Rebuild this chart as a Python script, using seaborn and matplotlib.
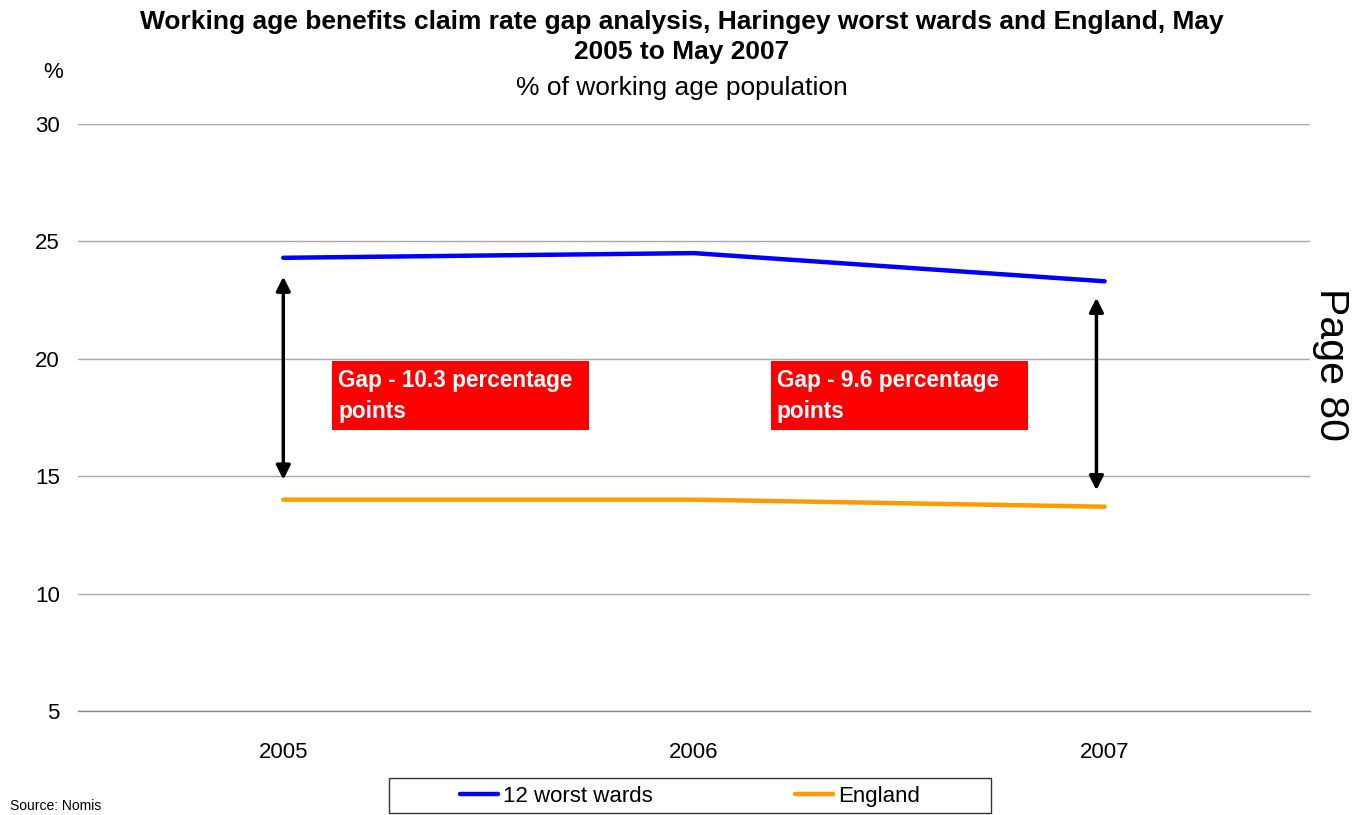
import matplotlib
matplotlib.use("Agg")
import matplotlib.pyplot as plt
from matplotlib.patches import Rectangle
import seaborn as sns
import pandas as pd

# Claim rates, % of working age population
years = ["2005", "2006", "2007"]
worst_wards = [24.3, 24.5, 23.3]
england = [14.0, 14.0, 13.7]
series_names = ["12 worst wards", "England"]
series_colors = ["#0000FF", "#FF9900"]
y_ticks = [5, 10, 15, 20, 25, 30]

gap_start = round(worst_wards[0] - england[0], 1)
gap_end = round(worst_wards[-1] - england[-1], 1)

df = pd.DataFrame({
    "year": years * 2,
    "rate": worst_wards + england,
    "series": [series_names[0]] * len(years) + [series_names[1]] * len(years),
})

sns.set_theme(style="white")
plt.rcParams["font.family"] = ["Liberation Sans", "DejaVu Sans"]
plt.rcParams["text.color"] = "black"
plt.rcParams["xtick.color"] = "black"
plt.rcParams["ytick.color"] = "black"

fig = plt.figure(figsize=(13.63, 8.15), dpi=100)
ax = fig.add_axes([0.0572, 0.1276, 0.9039, 0.7203])

sns.lineplot(data=df, x="year", y="rate", hue="series", sort=False,
             palette=dict(zip(series_names, series_colors)), linewidth=3.2,
             legend=False, ax=ax, solid_capstyle="round")

ax.set_ylim(5, 30)
ax.set_xlim(-0.5, len(years) - 0.5)
ax.set_yticks(y_ticks)
ax.set_yticklabels([str(t) for t in y_ticks], fontsize=16)
ax.tick_params(axis="y", length=0, pad=13, labelcolor="black")
ax.yaxis.grid(True, color="#A8A8A8", linewidth=1.0)
ax.set_axisbelow(True)

# Category boundaries carry tick marks; labels sit at the category centres
ax.set_xticks([i - 0.5 for i in range(len(years) + 1)])
ax.set_xticklabels([])
ax.set_xticks(range(len(years)), minor=True)
ax.set_xticklabels(years, minor=True, fontsize=16)
ax.tick_params(axis="x", which="major", length=6, width=1, color="#888888", direction="out")
ax.tick_params(axis="x", which="minor", length=0, pad=22, labelcolor="black")
ax.set_xlabel("")
ax.set_ylabel("")

for side in ("left", "top", "right"):
    ax.spines[side].set_visible(False)
ax.spines["bottom"].set_color("#888888")
ax.spines["bottom"].set_linewidth(1.0)

# Gap arrows between the two series
arrow_kw = dict(arrowstyle="<|-|>,head_length=0.7,head_width=0.35", color="black", lw=2.5,
                shrinkA=0, shrinkB=0)
ax.annotate("", xy=(0.0, worst_wards[0] - 0.8), xytext=(0.0, england[0] + 0.85),
            arrowprops=arrow_kw)
ax.annotate("", xy=(1.98, worst_wards[-1] - 0.7), xytext=(1.98, england[-1] + 0.7),
            arrowprops=arrow_kw)

# Gap call-out boxes
for x0, gap in ((0.119, gap_start), (1.187, gap_end)):
    ax.add_patch(Rectangle((x0, 16.97), 0.626, 2.94, facecolor="#FF0000",
                           edgecolor="none", zorder=3))
    ax.text(x0 + 0.015, 19.55, f"Gap - {gap} percentage\npoints", color="white",
            fontsize=16.3, fontweight="bold", va="top", ha="left",
            linespacing=1.4, zorder=4)

# Titles and page furniture
fig.text(0.5, 1 - 22 / 815, "Working age benefits claim rate gap analysis, Haringey worst wards and England, May",
         ha="center", va="center", fontsize=19, fontweight="bold")
fig.text(0.5, 1 - 51.5 / 815, "2005 to May 2007", ha="center", va="center",
         fontsize=19, fontweight="bold")
fig.text(0.5, 1 - 87.5 / 815, "% of working age population", ha="center", va="center",
         fontsize=19)
fig.text(53 / 1363, 1 - 72 / 815, "%", ha="center", va="center", fontsize=16)
fig.text(10 / 1363, 1 - 813 / 815, "Source: Nomis", ha="left", va="bottom", fontsize=10)
fig.text(1331 / 1363, 1 - 364 / 815, "Page 80", ha="center", va="center",
         fontsize=29.5, rotation=270)

# Legend in a framed strip below the axis
fig.patches.append(Rectangle((389 / 1363, 1 - 813 / 815), 602 / 1363, 35 / 815,
                             transform=fig.transFigure, facecolor="white",
                             edgecolor="#333333", linewidth=1.0))
handles = ax.get_lines()[:2]
fig.legend(handles, series_names, loc="center", bbox_to_anchor=(0.5063, 1 - 796.5 / 815),
           ncol=2, frameon=False, fontsize=16, handlelength=1.7, handletextpad=0.25,
           columnspacing=6.4, borderaxespad=0)

fig.savefig("out.png", dpi=100)
